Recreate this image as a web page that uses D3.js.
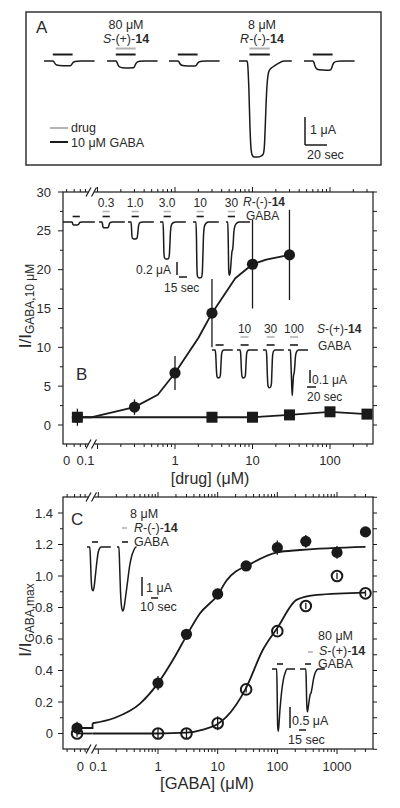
<!DOCTYPE html>
<html><head><meta charset="utf-8">
<script src="https://cdn.jsdelivr.net/npm/d3@7"></script>
<style>body{margin:0;background:#fff}svg{font-family:"Liberation Sans",Arial,sans-serif}</style>
</head><body><svg id="c" width="400" height="808"></svg>
<script>
// ================= DATA =================
// Panel B: concentration-response, R-(-)-14 (circles) and S-(+)-14 (squares)
const bDrugR = [0, 0.3, 1, 3, 10, 30];
const bRespR = [1.0, 2.3, 6.7, 14.4, 20.7, 21.9];
const bErrR  = [1.1, 1.0, 2.2, 4.4, 5.7, 5.8];
const bDrugS = [0, 3, 10, 30, 100, 300];
const bRespS = [1.0, 1.0, 1.0, 1.3, 1.7, 1.4];
const bFitRx = [0.085, 0.3, 0.6, 1, 2, 3, 6, 10, 15, 30];
const bFitRy = [1.0, 2.3, 3.9, 6.7, 11.2, 14.4, 18.9, 20.7, 21.3, 21.9];
const bYTicks = [0, 5, 10, 15, 20, 25, 30];
const bXLabels = ["0", "0.1", "1", "10", "100"];
const bXLabelAt = [0.04, 0.07, 1, 10, 100];

// Panel C: GABA concentration-response with R-(-)-14 (filled) and S-(+)-14 (open)
const cGaba  = [0, 1, 3, 10, 30, 100, 300, 1000, 3000];
const cRespR = [0.035, 0.32, 0.63, 0.886, 1.064, 1.18, 1.22, 1.15, 1.28];
const cErrR  = [0.04, 0.045, 0.02, 0.035, 0.02, 0.045, 0.04, 0.04, 0.02];
const cRespS = [0.0, 0.0, 0.0, 0.065, 0.28, 0.65, 0.81, 1.0, 0.89];
const cErrS  = [0.02, 0.035, 0.035, 0.045, 0.02, 0.02, 0.02, 0.02, 0.02];
const cFitRx = [0.08, 0.19, 0.5, 1, 2, 3, 5, 10, 14, 37, 100, 240, 3000];
const cFitRy = [0.065, 0.10, 0.19, 0.32, 0.5, 0.62, 0.76, 0.88, 0.97, 1.08, 1.15, 1.165, 1.185];
const cFitSx = [0.08, 1, 3, 5.7, 10, 14, 30, 57, 100, 213, 460, 3000];
const cFitSy = [0, 0, 0.005, 0.025, 0.06, 0.105, 0.29, 0.53, 0.67, 0.85, 0.88, 0.895];
const cYTicks = [0, 0.2, 0.4, 0.6, 0.8, 1.0, 1.2, 1.4];
const cYLabels = ["0", "0.2", "0.4", "0.6", "0.8", "1.0", "1.2", "1.4"];
const cXLabels = ["0", "0.1", "1", "10", "100", "1000"];
const cXLabelAt = [0.05, 0.1, 1, 10, 100, 1000];

// Current traces: [time (s), fraction of peak]
const tplA  = [[0,0],[8,0],[9,-0.15],[10,-0.55],[11.5,-0.85],[14,-0.95],[20,-1],[24,-0.98],[25,-0.8],[26,-0.45],[27.5,-0.15],[30,-0.04],[34,0],[46,0]];
const tplA4 = [[0,0],[7.3,0],[8,-0.05],[9,-0.3],[10,-0.7],[11,-0.92],[12,-0.98],[13.5,-1],[17,-1],[20,-0.99],[22,-0.97],[23,-0.9],[23.8,-0.7],[24.6,-0.45],[25.5,-0.25],[26.5,-0.14],[28,-0.09],[31,-0.06],[35,-0.03],[41,0],[48,0]];
const ampA  = [0.17, 0.25, 0.18, 3.43, 0.33];   // μA
const tplBR  = [[0,0],[5,0],[5.8,-0.3],[6.5,-0.8],[7.5,-0.97],[10,-1],[14,-0.99],[15.5,-0.9],[16.5,-0.6],[17.5,-0.25],[19,-0.08],[22,-0.02],[26,0],[43,0]];
const tplBR6 = [[0,0],[3,0],[3.8,-0.4],[4.5,-0.9],[5.5,-1],[7,-0.95],[8.5,-0.75],[10,-0.55],[11,-0.52],[12,-0.4],[13,-0.2],[15,-0.07],[18,-0.02],[22,0],[40,0]];
const ampBR  = [0.046, 0.09, 0.26, 0.57, 0.86, 0.82];
const labBR  = ["", "0.3", "1.0", "3.0", "10", "30"];
const tplBS  = [[0,0],[8,0],[9.5,-0.2],[11,-0.7],[12.5,-0.95],[15,-1],[19,-0.98],[21,-0.9],[22.5,-0.5],[24,-0.15],[26,-0.04],[30,0],[52,0]];
const tplBS4 = [[0,0],[6,0],[7,-0.2],[9,-0.7],[10.5,-1],[12,-0.8],[14,-0.55],[15.5,-0.5],[17,-0.35],[19,-0.12],[22,-0.03],[26,0],[50,0]];
const ampBS  = [0.215, 0.215, 0.29, 0.35];
const labBS  = ["", "10", "30", "100"];
const tplCR1 = [[0,0],[4,0],[5,-0.3],[6,-0.75],[7.3,-0.97],[8.6,-1],[10,-0.93],[12,-0.65],[14,-0.35],[16,-0.12],[18,-0.03],[20,0],[34,0]];
const tplCR2 = [[0,0],[2.8,0],[3.8,-0.3],[5,-0.7],[6.5,-0.93],[8.3,-1],[10,-0.95],[12,-0.8],[15,-0.55],[18,-0.3],[21,-0.14],[24,-0.05],[27,0],[28,0]];
const ampCR  = [2.3, 3.37];
const tplCS1 = [[0,0],[10,0],[11,-0.4],[12,-0.9],[13.2,-1],[14.5,-0.92],[17,-0.65],[20,-0.4],[24,-0.18],[28,-0.06],[32,0],[49,0]];
const tplCS2 = [[0,0],[12.5,0],[13.5,-0.4],[14.5,-0.85],[15.8,-1],[17,-0.93],[19,-0.78],[21.5,-0.6],[23.5,-0.56],[25.5,-0.45],[28.5,-0.25],[32,-0.1],[36,-0.02],[39,0],[53,0]];
const ampCS  = [1.48, 1.02];

// ================= DRAWING =================
const svg = d3.select("#c");
const INK = "#1a1a1a", GREY = "#b3b3b3", TXT = "#2a2a2a";

function hline(g, x1, x2, y, color, w) {
  g.append("line").attr("x1", x1).attr("x2", x2).attr("y1", y).attr("y2", y)
    .attr("stroke", color).attr("stroke-width", w || 1.6);
}
function vline(g, x, y1, y2, color, w) {
  g.append("line").attr("x1", x).attr("x2", x).attr("y1", y1).attr("y2", y2)
    .attr("stroke", color).attr("stroke-width", w || 1.4);
}
function trace(g, pts, x0, y0, pxPerS, pxPerUA, amp) {
  const xs = d3.scaleLinear().domain([0, 1]).range([x0, x0 + pxPerS]);
  const ys = d3.scaleLinear().domain([0, 1]).range([y0, y0 - pxPerUA]);
  const ln = d3.line().x(d => xs(d[0])).y(d => ys(d[1] * amp)).curve(d3.curveMonotoneX);
  g.append("path").attr("d", ln(pts)).attr("fill", "none").attr("stroke", INK)
    .attr("stroke-width", 1.5).attr("stroke-linejoin", "round");
  return xs;
}
function txt(g, x, y, s, size, anchor) {
  return g.append("text").attr("x", x).attr("y", y).attr("font-size", size)
    .attr("text-anchor", anchor || "start").attr("fill", TXT).text(s);
}
function cpdLabel(g, x, y, letter, sign, size, anchor) {
  const t = g.append("text").attr("x", x).attr("y", y).attr("font-size", size)
    .attr("text-anchor", anchor || "start").attr("fill", TXT);
  t.append("tspan").attr("font-style", "italic").text(letter);
  t.append("tspan").text("-(" + sign + ")-");
  t.append("tspan").attr("font-weight", "bold").text("14");
  return t;
}

// ---------- Panel A ----------
const gA = svg.append("g");
gA.append("rect").attr("x", 26).attr("y", 12).attr("width", 355).attr("height", 153)
  .attr("fill", "none").attr("stroke", "#333").attr("stroke-width", 1.5);
txt(gA, 36, 33, "A", 17);
const aStart = [44, 107, 169, 239, 304];
const aPxS = 1.1, aPxA = 28, aBase = 61;
aStart.forEach((x0, i) => {
  const xs = trace(gA, i === 3 ? tplA4 : tplA, x0, aBase, aPxS, aPxA, ampA[i]);
  const b = i === 3 ? [9.5, 28] : [8, 26];
  if (i === 1 || i === 3) hline(gA, xs(b[0]), xs(b[1]), 48.5, GREY, 2);
  hline(gA, xs(b[0]), xs(b[1]), 54.5, INK, 2);
});
txt(gA, 126, 29, "80 μM", 12.5, "middle");
cpdLabel(gA, 126, 43, "S", "+", 12.5, "middle");
txt(gA, 262, 29, "8 μM", 12.5, "middle");
cpdLabel(gA, 262, 43, "R", "-", 12.5, "middle");
hline(gA, 50, 68, 128, GREY, 2); txt(gA, 71, 132, "drug", 12.5);
hline(gA, 50, 68, 142, INK, 2); txt(gA, 71, 146.5, "10 μM GABA", 12.5);
vline(gA, 305, 117, 145, INK, 1.5); hline(gA, 305, 327, 145, INK, 1.5);
txt(gA, 310, 134, "1 μA", 12.5);
txt(gA, 307, 159, "20 sec", 12.5);

// ---------- generic axis frame ----------
function frame(g, box, xs, yTicks, yLabels, yMinor, yRight, ylab) {
  const {x0, x1, y0, y1} = box;
  const ys = ylab.scale;
  g.append("rect").attr("x", x0).attr("y", y0).attr("width", x1 - x0).attr("height", y1 - y0)
    .attr("fill", "none").attr("stroke", INK).attr("stroke-width", 1.2);
  const vals = [];
  [0.01, 0.1, 1, 10, 100, 1000].forEach(d => { for (let m = 1; m < 10; m++) vals.push([m * d, m === 1]); });
  vals.forEach(([v, major]) => {
    const x = xs(v);
    if (x < x0 + 2 || x > x1 - 0.5 || (x > 86.5 && x < 96.5)) return;
    const L = major ? 5 : 3;
    vline(g, x, y0, y0 - L, INK, 1);
    vline(g, x, y1, y1 + L, INK, 1);
  });
  [y0, y1].forEach(y => {
    g.append("rect").attr("x", 88.5).attr("y", y - 2).attr("width", 6).attr("height", 4).attr("fill", "#fff");
    g.append("line").attr("x1", 86).attr("y1", y + 4.5).attr("x2", 91).attr("y2", y - 4.5).attr("stroke", INK).attr("stroke-width", 1.2);
    g.append("line").attr("x1", 91.5).attr("y1", y + 4.5).attr("x2", 96.5).attr("y2", y - 4.5).attr("stroke", INK).attr("stroke-width", 1.2);
  });
  yTicks.forEach((v, i) => {
    const y = ys(v);
    g.append("line").attr("x1", x0 - 5).attr("x2", x0).attr("y1", y).attr("y2", y).attr("stroke", INK).attr("stroke-width", 1);
    txt(g, ylab.x, y + 4.5, yLabels[i], 13, "end");
  });
  yMinor.forEach(v => {
    const y = ys(v);
    g.append("line").attr("x1", x0 - 3).attr("x2", x0).attr("y1", y).attr("y2", y).attr("stroke", INK).attr("stroke-width", 1);
  });
  yRight.forEach(v => {
    const y = ys(v);
    g.append("line").attr("x1", x1).attr("x2", x1 + 4).attr("y1", y).attr("y2", y).attr("stroke", INK).attr("stroke-width", 1);
  });
}
function yTitle(g, x, y, sub) {
  const t = g.append("text").attr("transform", `translate(${x},${y}) rotate(-90)`)
    .attr("text-anchor", "middle").attr("font-size", 17).attr("fill", TXT);
  t.append("tspan").text("I/I");
  t.append("tspan").attr("dy", 3).attr("font-size", 12).text(sub);
}

// ---------- Panel B ----------
const gB = svg.append("g");
const xB = d3.scaleLog().domain([0.1, 100]).range([97.5, 330]);
const yB = d3.scaleLinear().domain([0, 30]).range([425, 192]);
const xBv = v => v === 0 ? xB(0.055) : xB(v);
frame(gB, {x0: 63, x1: 373, y0: 192, y1: 444}, xB, bYTicks, bYTicks.map(String),
  [2.5, 7.5, 12.5, 17.5, 22.5, 27.5], d3.range(0, 30.1, 2.5), {scale: yB, x: 51});
bXLabels.forEach((s, i) => txt(gB, xB(bXLabelAt[i]), 464.5, s, 13, "middle"));
txt(gB, 210, 484, "[drug] (μM)", 16, "middle");
yTitle(gB, 31, 306, "GABA,10 μM");
txt(gB, 76, 380, "B", 17);

// insets B (R)
const brStart = [69, 99, 128, 160, 193, 226];
brStart.forEach((x0, i) => {
  const pts = i === 0 ? [[-10, 0]].concat(tplBR) : (i === 5 ? tplBR6 : tplBR);
  const xs = trace(gB, pts, x0, 222, 0.6, 65, ampBR[i]);
  const b = i === 5 ? [3, 15] : [6, 18];
  if (i > 0) {
    hline(gB, xs(b[0]), xs(b[1]), 211.5, GREY, 1.6);
    txt(gB, xs((b[0] + b[1]) / 2), 207, labBR[i], 12, "middle");
  }
  hline(gB, xs(b[0]), xs(b[1]), 216.5, INK, 1.6);
});
cpdLabel(gB, 243, 206, "R", "-", 12);
txt(gB, 246, 220, "GABA", 12);
txt(gB, 136, 274, "0.2 μA", 12);
vline(gB, 177, 262, 275, INK, 1.5);
hline(gB, 179, 187, 277, INK, 1.5);
txt(gB, 164, 292, "15 sec", 12);

// insets B (S)
const bsStart = [212, 237, 263, 288];
bsStart.forEach((x0, i) => {
  const xs = trace(gB, i === 3 ? tplBS4 : tplBS, x0, 350, 0.4, 130, ampBS[i]);
  const b = i === 3 ? [5, 25] : [9, 29];
  if (i > 0) {
    hline(gB, xs(b[0]), xs(b[1]), 337, GREY, 1.6);
    txt(gB, xs((b[0] + b[1]) / 2), 333, labBS[i], 12, "middle");
  }
  hline(gB, xs(b[0]), xs(b[1]), 345, INK, 1.6);
});
cpdLabel(gB, 317, 333, "S", "+", 12);
txt(gB, 318, 350, "GABA", 12);
vline(gB, 310, 370, 383, INK, 1.5);
txt(gB, 312, 384, "0.1 μA", 12);
hline(gB, 307, 316, 387, INK, 1.5);
txt(gB, 307, 401, "20 sec", 12);

// data B
const lineB = d3.line().x(d => xBv(d[0])).y(d => yB(d[1]));
gB.append("path").attr("d", lineB(bDrugS.map((v, i) => [v, bRespS[i]])))
  .attr("fill", "none").attr("stroke", INK).attr("stroke-width", 1.8);
gB.append("path").attr("d", lineB([[0, bRespR[0]]].concat(bFitRx.map((v, i) => [v, bFitRy[i]]))))
  .attr("fill", "none").attr("stroke", INK).attr("stroke-width", 1.8).attr("stroke-linejoin", "round");
bDrugR.forEach((v, i) => vline(gB, xBv(v), yB(bRespR[i] + bErrR[i]), yB(bRespR[i] - bErrR[i]), INK, 1.3));
bDrugR.forEach((v, i) => gB.append("circle").attr("cx", xBv(v)).attr("cy", yB(bRespR[i])).attr("r", 5.6).attr("fill", INK));
bDrugS.forEach((v, i) => gB.append("rect").attr("x", xBv(v) - 5.5).attr("y", yB(bRespS[i]) - 5.5)
  .attr("width", 11).attr("height", 11).attr("fill", INK));

// ---------- Panel C ----------
const gC = svg.append("g");
const xC = d3.scaleLog().domain([1, 1000]).range([158, 337]);
const yC = d3.scaleLinear().domain([0, 1.4]).range([733.5, 513]);
const xCv = v => v === 0 ? xC(0.044) : xC(v);
frame(gC, {x0: 63, x1: 373, y0: 497, y1: 749}, xC, cYTicks, cYLabels,
  [0.1, 0.3, 0.5, 0.7, 0.9, 1.1, 1.3], d3.range(-0.1, 1.51, 0.1), {scale: yC, x: 53});
cXLabels.forEach((s, i) => txt(gC, xC(cXLabelAt[i]), 771, s, 13, "middle"));
txt(gC, 207, 789, "[GABA] (μM)", 16.5, "middle");
yTitle(gC, 31, 620, "GABA,max");
txt(gC, 71, 525, "C", 17);

// inset C (R)
[[87, tplCR1], [117, tplCR2]].forEach(([x0, tpl], i) => {
  const xs = trace(gC, tpl, x0, 547, 0.7, 19, ampCR[i]);
  hline(gC, xs(7.1), xs(15.7), 542, INK, 1.6);
  if (i === 1) hline(gC, xs(7.1), xs(14.3), 528, GREY, 1.6);
});
txt(gC, 130, 518, "8 μM", 12.5);
cpdLabel(gC, 134, 532, "R", "-", 12.5);
txt(gC, 134, 546, "GABA", 12.5);
vline(gC, 142, 577, 596, INK, 1.5);
txt(gC, 146, 592, "1 μA", 12.5);
hline(gC, 151, 158, 598, INK, 1.5);
txt(gC, 140, 611, "10 sec", 12.5);

// inset C (S)
[[272, tplCS1], [300, tplCS2]].forEach(([x0, tpl], i) => {
  const xs = trace(gC, tpl, x0, 669, 0.47, 42, ampCS[i]);
  hline(gC, xs(10.6), xs(23.4), 664, INK, 1.6);
  if (i === 1) hline(gC, xs(17), xs(27.5), 652, GREY, 1.6);
});
txt(gC, 318, 640, "80 μM", 12.5);
cpdLabel(gC, 319, 655, "S", "+", 12.5);
txt(gC, 318, 668, "GABA", 12.5);
vline(gC, 290, 707, 728, INK, 1.5);
txt(gC, 292, 725, "0.5 μA", 12.5);
hline(gC, 299, 306, 730, INK, 1.5);
txt(gC, 288, 744, "15 sec", 12.5);

// data C
const lineCL = d3.line().x(d => xCv(d[0])).y(d => yC(d[1]));
const lineCM = d3.line().x(d => xCv(d[0])).y(d => yC(d[1])).curve(d3.curveMonotoneX);
gC.append("path").attr("d", lineCL([[0, cRespR[0]], [cFitRx[0], cRespR[0]], [cFitRx[0], cFitRy[0]]]))
  .attr("fill", "none").attr("stroke", INK).attr("stroke-width", 1.8);
gC.append("path").attr("d", lineCM(cFitRx.map((v, i) => [v, cFitRy[i]])))
  .attr("fill", "none").attr("stroke", INK).attr("stroke-width", 1.8);
gC.append("path").attr("d", lineCL([[0, cRespS[0]], [cFitSx[0], cFitSy[0]]]))
  .attr("fill", "none").attr("stroke", INK).attr("stroke-width", 1.8);
gC.append("path").attr("d", lineCM(cFitSx.map((v, i) => [v, cFitSy[i]])))
  .attr("fill", "none").attr("stroke", INK).attr("stroke-width", 1.8);
cGaba.forEach((v, i) => vline(gC, xCv(v), yC(cRespS[i] + cErrS[i]), yC(cRespS[i] - cErrS[i]), INK, 1.3));
cGaba.forEach((v, i) => gC.append("circle").attr("cx", xCv(v)).attr("cy", yC(cRespS[i])).attr("r", 5.3)
  .attr("fill", "none").attr("stroke", INK).attr("stroke-width", 2));
cGaba.forEach((v, i) => vline(gC, xCv(v), yC(cRespR[i] + cErrR[i]), yC(cRespR[i] - cErrR[i]), INK, 1.3));
cGaba.forEach((v, i) => gC.append("circle").attr("cx", xCv(v)).attr("cy", yC(cRespR[i])).attr("r", 5.6).attr("fill", INK));
</script></body></html>
